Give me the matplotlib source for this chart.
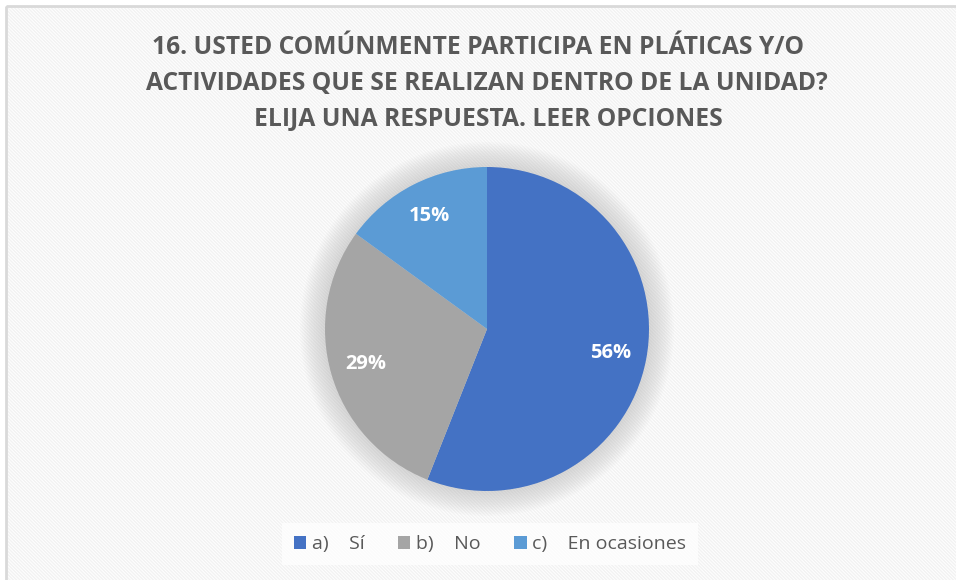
import matplotlib.pyplot as plt
from matplotlib.patches import Rectangle, Circle

labels = ['a)    Sí', 'b)    No', 'c)    En ocasiones']
values = [56, 29, 15]
colors = ['#4472C4', '#A5A5A5', '#5B9BD5']
title_lines = ['16. USTED COMÚNMENTE PARTICIPA EN PLÁTICAS Y/O',
               'ACTIVIDADES QUE SE REALIZAN DENTRO DE LA UNIDAD?',
               'ELIJA UNA RESPUESTA. LEER OPCIONES']

plt.rcParams['font.family'] = ['Open Sans', 'DejaVu Sans']
plt.rcParams['hatch.linewidth'] = 1.0

W, H = 956, 580
fig = plt.figure(figsize=(W / 100, H / 100), dpi=100)
fig.patch.set_facecolor('white')

# striped background with a light border
bgax = fig.add_axes([0, 0, 1, 1], zorder=-5)
bgax.set_xlim(0, W)
bgax.set_ylim(H, 0)
bgax.axis('off')
bgax.add_patch(Rectangle((6, 6), W, H, facecolor='white', edgecolor='#f2f2f2',
                         linewidth=0, hatch='\\' * 10))
bgax.add_patch(Rectangle((6, 6), W, H, facecolor='none', edgecolor='#d9d9d9', linewidth=2))

# title, one line at a time (first line sits a little left, as in the original)
for (x, y), line in zip([(478, 47), (487, 83), (488, 119)], title_lines):
    fig.text(x / W, 1 - y / H, line, ha='center', va='center', fontsize=17.7,
             fontweight='bold', color='#595959')

cx, cy, r = 487, 329, 162
ax = fig.add_axes([(cx - r) / W, 1 - (cy + r) / H, 2 * r / W, 2 * r / H])
ax.set_xlim(-1, 1)
ax.set_ylim(-1, 1)
ax.set_aspect('equal')
ax.axis('off')

# soft shadow around the pie
for i in range(14):
    ax.add_patch(Circle((0, 0), 1.0 + 0.011 * (14 - i), facecolor='#7f7f7f',
                        edgecolor='none', alpha=0.02, zorder=1, clip_on=False))

wedges, texts, autotexts = ax.pie(values, colors=colors, startangle=90, counterclock=False,
                                  radius=1.0, autopct='%1.0f%%', pctdistance=0.78,
                                  wedgeprops=dict(edgecolor='none'),
                                  textprops=dict(color='white', fontsize=14.5, fontweight='bold'))
for w in wedges:
    w.set_zorder(3)
for t in autotexts:
    t.set_zorder(4)
ax.set_xlim(-1, 1)
ax.set_ylim(-1, 1)

leg = fig.legend(wedges, labels, loc='center', bbox_to_anchor=(490 / W, 1 - 544 / H),
                 ncol=3, frameon=True, fontsize=14, handlelength=0.65, handleheight=0.65,
                 handletextpad=0.3, columnspacing=1.7, borderpad=0.6, fancybox=False)
leg.get_frame().set_facecolor('white')
leg.get_frame().set_edgecolor('none')
leg.get_frame().set_alpha(0.7)
for t in leg.get_texts():
    t.set_color('#595959')

fig.savefig('out.png', dpi=100)
